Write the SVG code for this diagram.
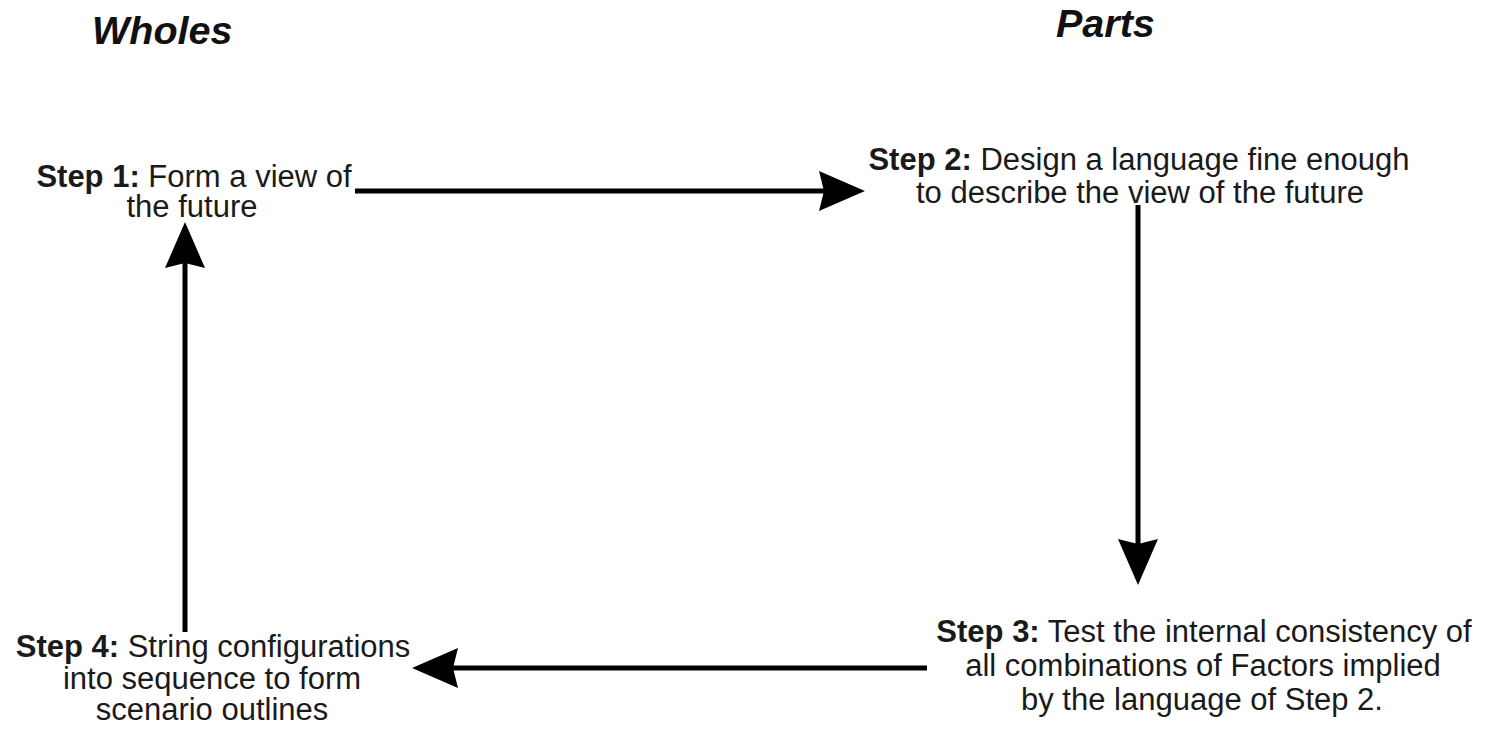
<svg xmlns="http://www.w3.org/2000/svg" width="1490" height="730" viewBox="0 0 1490 730">
<style>
.t{font-family:"Liberation Sans",Arial,sans-serif;font-size:31px;fill:#1a1a1a;text-anchor:middle}
.b{font-weight:bold}
.h{font-family:"Liberation Sans",Arial,sans-serif;font-size:39.5px;font-weight:bold;font-style:italic;fill:#111}
.c{stroke:#000;stroke-width:5;fill:none}
</style>
<defs>
<marker id="ah" viewBox="0 0 46 40" refX="5" refY="20" markerWidth="46" markerHeight="40" markerUnits="userSpaceOnUse" orient="auto">
<path d="M0,0 L46,20 L0,40 L5,20 Z" fill="#000"/>
</marker>
</defs>
<rect width="1490" height="730" fill="#fff"/>
<text class="h" x="92" y="44">Wholes</text>
<text class="h" x="1056" y="37">Parts</text>
<g id="connectors">
<line class="c" x1="355" y1="191" x2="824" y2="191" marker-end="url(#ah)"/>
<line class="c" x1="1138" y1="205" x2="1138" y2="544" marker-end="url(#ah)"/>
<line class="c" x1="927" y1="668" x2="453" y2="668" marker-end="url(#ah)"/>
<line class="c" x1="185" y1="632" x2="185" y2="263" marker-end="url(#ah)"/>
</g>
<g id="step1">
<text class="t" x="194" y="187"><tspan class="b">Step 1:</tspan> Form a view of</text>
<text class="t" x="192" y="217">the future</text>
</g>
<g id="step2">
<text class="t" x="1139" y="170"><tspan class="b">Step 2:</tspan> Design a language fine enough</text>
<text class="t" x="1140" y="203">to describe the view of the future</text>
</g>
<g id="step3">
<text class="t" x="1204" y="642"><tspan class="b">Step 3:</tspan> Test the internal consistency of</text>
<text class="t" x="1203" y="676">all combinations of Factors implied</text>
<text class="t" x="1202" y="710">by the language of Step 2.</text>
</g>
<g id="step4">
<text class="t" x="213" y="657"><tspan class="b">Step 4:</tspan> String configurations</text>
<text class="t" x="212" y="689">into sequence to form</text>
<text class="t" x="212" y="720">scenario outlines</text>
</g>
</svg>
